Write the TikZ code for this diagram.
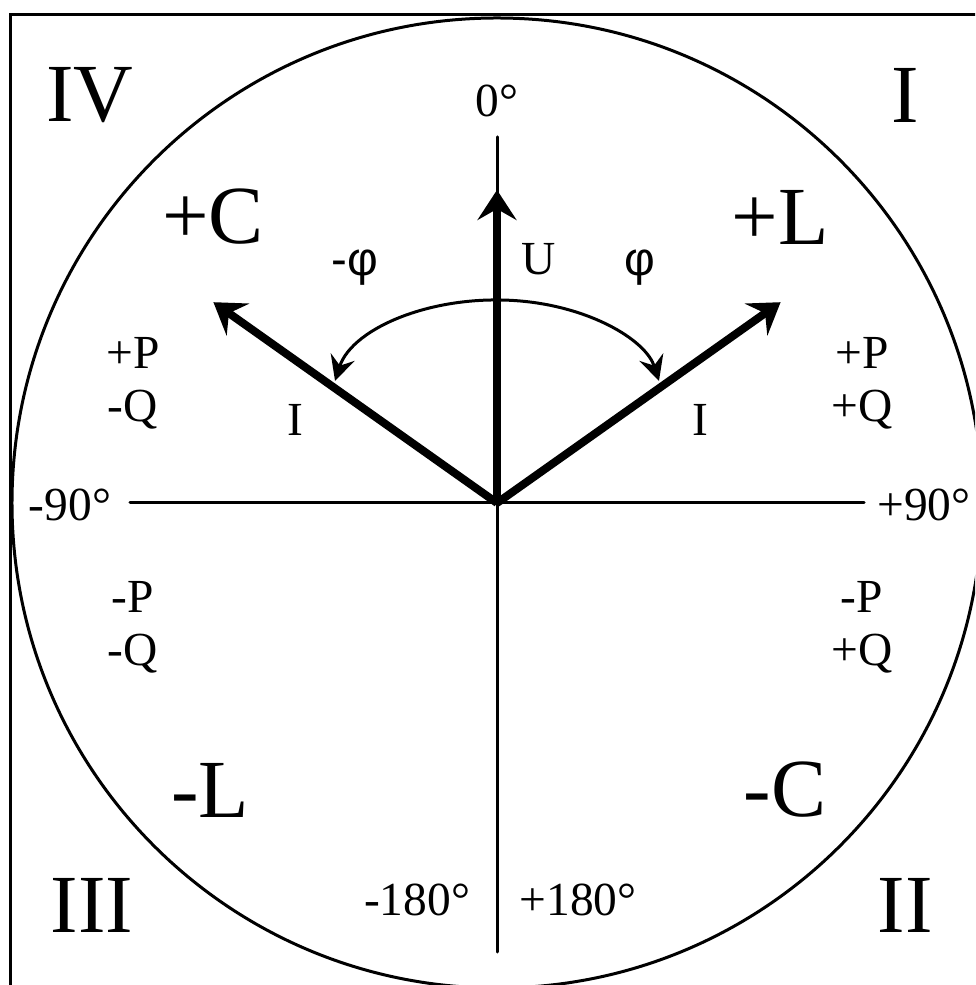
\documentclass[tikz,border=0pt]{standalone}
\usepackage{fontspec}
\setmainfont{Liberation Serif}
\newfontfamily\phifont{Liberation Sans}
\usepackage{tikz}
\usetikzlibrary{arrows.meta, positioning, calc}

\begin{document}
\begin{tikzpicture}[
quadlabel/.style={
inner sep=0pt,
font=\fontsize{47}{50}\selectfont
},
loadlabel/.style={
inner sep=0pt,
font=\fontsize{47}{50}\selectfont
},
smalllabel/.style={
inner sep=0pt,
align=center,
font=\fontsize{27}{30}\selectfont
},
axisline/.style={
line width=0.06cm,
line cap=round
},
vectorline/.style={
line width=0.16cm,
-{Stealth[length=0.6cm, width=0.78cm, inset=0.22cm]}
},
anglearc/.style={
line width=0.06cm,
{Stealth[length=0.5cm, width=0.5cm, inset=0.18cm]}-{Stealth[length=0.5cm, width=0.5cm, inset=0.18cm]}
}
]

\useasboundingbox (-9.94,-9.64) rectangle (9.56,10.06);
\clip (-9.94,-9.64) rectangle (9.56,10.06);

% Frame and circle
\draw[line width=0.06cm] (-9.72,-12) rectangle (12,9.76);
\draw[line width=0.06cm] (0,0) circle (9.7);

% Axes
\coordinate (O) at (0,0);
\coordinate (top) at (0,7.32);
\coordinate (bottom) at (0,-8.98);
\coordinate (left) at (-7.34,0);
\coordinate (right) at (7.34,0);
\draw[axisline] (top) -- (bottom);
\draw[axisline] (left) -- (right);

% Vectors U and I
\coordinate (Utip) at (0,6.26);
\coordinate (Ilead) at (144.7:6.95);
\coordinate (Ilag) at (35.3:6.95);
\draw[vectorline] (O) -- (Utip);
\draw[vectorline] (O) -- (Ilead);
\draw[vectorline] (O) -- (Ilag);

% Phase angle arc
\coordinate (phistart) at ($(0,2.06)+(169:3.3 and 2)$);
\draw[anglearc] (phistart) arc[start angle=169, end angle=11, x radius=3.3, y radius=2];

% Quadrant numbers
\node[quadlabel] (q4) at (-8.14,8.16) {IV};
\node[quadlabel] (q1) at (8.16,8.16) {I};
\node[quadlabel] (q3) at (-8.1,-8.04) {III};
\node[quadlabel] (q2) at (8.16,-8.04) {II};

% Load types
\node[loadlabel] (pc) at (-5.68,5.72) {+C};
\node[loadlabel] (pl) at (5.66,5.72) {+L};
\node[loadlabel] (ml) at (-5.74,-5.74) {-L};
\node[loadlabel] (mc) at (5.76,-5.74) {-C};

% Angles
\node[smalllabel] (deg0) at (0,8.04) {0°};
\node[smalllabel] (degm90) at (-8.54,-0.04) {-90°};
\node[smalllabel] (degp90) at (8.54,-0.04) {+90°};
\node[smalllabel] (degm180) at (-1.6,-7.94) {-180°};
\node[smalllabel] (degp180) at (1.62,-7.94) {+180°};

% Vector and angle names
\node[smalllabel] (ulabel) at (0.84,4.88) {U};
\node[smalllabel] (ileadlabel) at (-4.04,1.66) {I};
\node[smalllabel] (ilaglabel) at (4.06,1.66) {I};
\node[smalllabel] (philead) at (-2.84,4.7) {\phifont -φ};
\node[smalllabel] (philag) at (2.86,4.7) {\phifont φ};

% Power signs
\node[smalllabel] (pq4) at (-7.28,2.4) {+P\\-Q};
\node[smalllabel] (pq1) at (7.3,2.4) {+P\\+Q};
\node[smalllabel] (pq3) at (-7.28,-2.48) {-P\\-Q};
\node[smalllabel] (pq2) at (7.3,-2.48) {-P\\+Q};

\end{tikzpicture}
\end{document}
